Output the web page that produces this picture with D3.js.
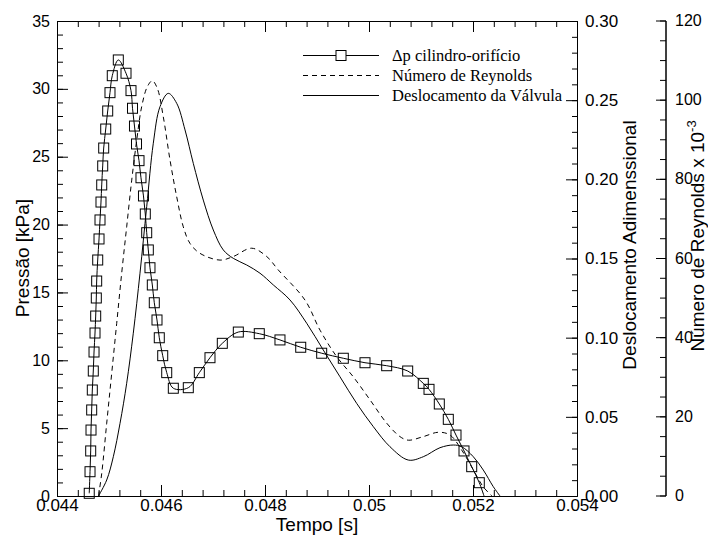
<!DOCTYPE html>
<html>
<head>
<meta charset="utf-8">
<script src="https://cdn.jsdelivr.net/npm/d3@7"></script>
<style>
  body { margin: 0; background: #fff; }
  svg { display: block; }
</style>
</head>
<body>
<svg id="chart" width="708" height="537"></svg>
<script>
// Δp cilindro-orifício (kPa) vs tempo (s)
const tempoDp = [0.04462,0.044635,0.044648,0.044654,0.044667,0.044679,0.044698,0.044712,0.044731,0.044744,
  0.044756,0.044763,0.044783,0.044808,0.044827,0.044846,0.04486,0.044879,0.044898,0.044937,
  0.044975,0.045019,0.045063,0.045179,0.045327,0.045423,0.045452,0.04549,0.045529,0.045577,
  0.045615,0.045663,0.045698,0.045725,0.045756,0.045788,0.045833,0.045871,0.045923,0.045967,
  0.046033,0.04611,0.046237,0.046525,0.046737,0.046942,0.047179,0.047487,0.04789,0.048288,
  0.048687,0.04909,0.049506,0.049923,0.05034,0.050744,0.051044,0.051154,0.051352,0.051525,
  0.051673,0.051827,0.051975,0.052121,0.052212];
const pressao = [0.2,1.79,3.32,4.86,6.34,7.81,9.21,10.61,12.01,13.26,
  14.59,15.84,17.39,18.94,20.34,21.66,22.92,24.32,25.64,27.04,
  28.37,29.72,30.97,32.13,31.15,29.87,28.57,27.26,25.94,24.71,
  23.45,22.11,20.78,19.4,18.13,16.82,15.55,14.24,12.97,11.66,
  10.34,9.09,7.94,7.98,9.09,10.19,11.25,12.08,11.96,11.5,
  10.96,10.52,10.15,9.82,9.6,9.21,8.3,7.86,6.78,5.65,
  4.49,3.32,2.16,0.98,0];

// Número de Reynolds x 10^-3
const tempoRe = [0.044798,0.04486,0.044956,0.045052,0.045148,0.045244,0.04534,0.045437,0.045533,0.045629,
  0.045737,0.045833,0.045929,0.046044,0.046173,0.046302,0.046429,0.046558,0.04675,0.047135,
  0.04739,0.047744,0.048033,0.048256,0.048769,0.049058,0.049379,0.049698,0.050019,0.05034,
  0.050596,0.050756,0.051044,0.051333,0.051558,0.051783,0.052006,0.052198,0.052365];
const reynolds = [0,5.7,18.4,31,43.6,56.3,68,79.8,89.9,98.4,
  103.4,104.9,103,95.8,84.9,75.6,68,63.8,61.3,59.6,
  60.5,62.6,60.5,57.1,49.5,41.9,35.2,30.1,24.3,18.4,
  15,14.1,15,16.1,15.4,11.6,6.6,2.3,0];

// Deslocamento adimensional da válvula
const tempoDesl = [0.044798,0.044956,0.045083,0.045212,0.04534,0.045467,0.045596,0.045725,0.045852,0.045981,
  0.04614,0.046302,0.046462,0.046621,0.046813,0.047006,0.047198,0.04739,0.047648,0.047904,
  0.04816,0.048481,0.048802,0.049121,0.049442,0.049763,0.050083,0.050404,0.050756,0.051044,
  0.051365,0.051621,0.051783,0.052006,0.052198,0.05239,0.052519];
const desl = [0,0.0101,0.0248,0.0459,0.0712,0.1028,0.1407,0.1827,0.2228,0.2459,
  0.2543,0.248,0.2312,0.2101,0.1869,0.168,0.1554,0.1501,0.1459,0.1407,
  0.1333,0.1238,0.1091,0.0922,0.0753,0.0585,0.0438,0.0311,0.0227,0.0248,
  0.0305,0.0322,0.0311,0.0248,0.0164,0.0059,0];

// tick labels
const xTicks = [0.044,0.046,0.048,0.05,0.052,0.054];
const xLabels = ["0.044","0.046","0.048","0.05","0.052","0.054"];
const pTicks = [0,5,10,15,20,25,30,35];
const dTicks = [0,0.05,0.10,0.15,0.20,0.25,0.30];
const dLabels = ["0.00","0.05","0.10","0.15","0.20","0.25","0.30"];
const reTicks = [0,20,40,60,80,100,120];

const legendNames = ["\u0394p cilindro-orif\u00edcio","N\u00famero de Reynolds","Deslocamento da V\u00e1lvula"];

const svg = d3.select("#chart");
const plotLeft = 57, plotRight = 577, plotTop = 21, plotBottom = 496;
const reAxisX = 666;

const x = d3.scaleLinear().domain([0.044, 0.054]).range([plotLeft, plotRight]);
const yP = d3.scaleLinear().domain([0, 35]).range([plotBottom, plotTop]);
const yD = d3.scaleLinear().domain([0, 0.3]).range([plotBottom, plotTop]);
const yR = d3.scaleLinear().domain([0, 120]).range([plotBottom, plotTop]);

const sans = "'Liberation Sans', Arial, Helvetica, sans-serif";
const serif = "'Liberation Serif', 'Times New Roman', serif";

function styleAxis(g, size) {
  g.attr("font-family", sans).attr("font-size", size);
  g.selectAll("path, line").attr("stroke", "#000");
  g.selectAll("text").attr("fill", "#000");
}

// minor ticks first (no labels)
const xMinor = d3.range(0, 26).map(i => 0.044 + i * 0.0004);
svg.append("g").attr("transform", `translate(0,${plotBottom})`)
  .call(d3.axisBottom(x).tickValues(xMinor).tickSizeInner(-6).tickSizeOuter(0).tickFormat(""))
  .call(g => styleAxis(g, 17));
svg.append("g").attr("transform", `translate(0,${plotTop})`)
  .call(d3.axisTop(x).tickValues(xMinor).tickSizeInner(-6).tickSizeOuter(0).tickFormat(""))
  .call(g => styleAxis(g, 17));
svg.append("g").attr("transform", `translate(0,${plotTop})`)
  .call(d3.axisTop(x).tickValues(xTicks).tickSizeInner(-11).tickSizeOuter(0).tickFormat(""))
  .call(g => styleAxis(g, 17));
svg.append("g").attr("transform", `translate(${plotLeft},0)`)
  .call(d3.axisLeft(yP).tickValues(d3.range(0, 36)).tickSizeInner(-6).tickSizeOuter(0).tickFormat(""))
  .call(g => styleAxis(g, 16));
svg.append("g").attr("transform", `translate(${plotRight},0)`)
  .call(d3.axisRight(yD).tickValues(d3.range(0, 31).map(i => i * 0.01)).tickSizeInner(-5).tickSizeOuter(0).tickFormat(""))
  .call(g => styleAxis(g, 17));
svg.append("g").attr("transform", `translate(${reAxisX},0)`)
  .call(d3.axisRight(yR).tickValues(d3.range(0, 121, 5)).tickSizeInner(-6).tickSizeOuter(0).tickFormat("").offset(0))
  .call(g => styleAxis(g, 16));

// major ticks with labels
svg.append("g").attr("transform", `translate(0,${plotBottom})`)
  .call(d3.axisBottom(x).tickValues(xTicks).tickSizeInner(-11).tickSizeOuter(0).tickPadding(3)
    .tickFormat((d, i) => xLabels[i]))
  .call(g => styleAxis(g, 17));
svg.append("g").attr("transform", `translate(${plotLeft},0)`)
  .call(d3.axisLeft(yP).tickValues(pTicks).tickSizeInner(-11).tickSizeOuter(0).tickPadding(7))
  .call(g => styleAxis(g, 16));
svg.append("g").attr("transform", `translate(${plotRight},0)`)
  .call(d3.axisRight(yD).tickValues(dTicks).tickSizeInner(-11).tickSizeOuter(0).tickPadding(8)
    .tickFormat((d, i) => dLabels[i]))
  .call(g => styleAxis(g, 17));
svg.append("g").attr("transform", `translate(${reAxisX},0)`)
  .call(d3.axisRight(yR).tickValues(reTicks).tickSizeInner(-10).tickSizeOuter(0).tickPadding(9).offset(0))
  .call(g => styleAxis(g, 16));

// axis titles
svg.append("text")
  .attr("x", (plotLeft + plotRight) / 2).attr("y", 531)
  .attr("text-anchor", "middle")
  .attr("font-family", sans).attr("font-size", 19)
  .text("Tempo [s]");
svg.append("text")
  .attr("transform", "translate(29,258) rotate(-90)")
  .attr("text-anchor", "middle")
  .attr("font-family", sans).attr("font-size", 19)
  .text("Press\u00e3o [kPa]");
svg.append("text")
  .attr("transform", "translate(636,245) rotate(-90)")
  .attr("text-anchor", "middle")
  .attr("font-family", sans).attr("font-size", 19)
  .text("Deslocamento Adimenssional");
const reTitle = svg.append("text")
  .attr("transform", "translate(704,236) rotate(-90)")
  .attr("text-anchor", "middle")
  .attr("font-family", sans).attr("font-size", 19);
reTitle.append("tspan").text("N\u00famero de Reynolds x 10");
reTitle.append("tspan").attr("dy", -8).attr("font-size", 13).text("-3");

// curves
const curve = d3.curveCatmullRom.alpha(0.5);
const dpData = d3.zip(tempoDp, pressao);
const reData = d3.zip(tempoRe, reynolds);
const deslData = d3.zip(tempoDesl, desl);

svg.append("path")
  .datum(dpData)
  .attr("fill", "none").attr("stroke", "#000").attr("stroke-width", 1)
  .attr("d", d3.line().x(d => x(d[0])).y(d => yP(d[1])).curve(curve));

// symbols on every measured point except the closing zero
const sq = 10;
svg.append("g").selectAll("rect")
  .data(dpData.slice(0, -1))
  .join("rect")
  .attr("x", d => x(d[0]) - sq / 2)
  .attr("y", d => yP(d[1]) - sq / 2)
  .attr("width", sq).attr("height", sq)
  .attr("fill", "none").attr("stroke", "#000").attr("stroke-width", 1);

svg.append("path")
  .datum(reData)
  .attr("fill", "none").attr("stroke", "#000").attr("stroke-width", 1)
  .attr("stroke-dasharray", "5,4")
  .attr("d", d3.line().x(d => x(d[0])).y(d => yR(d[1])).curve(curve));

svg.append("path")
  .datum(deslData)
  .attr("fill", "none").attr("stroke", "#000").attr("stroke-width", 1)
  .attr("d", d3.line().x(d => x(d[0])).y(d => yD(d[1])).curve(curve));

// legend
const legend = svg.append("g").attr("transform", "translate(303,55.5)");
const rowH = 20;
legendNames.forEach((name, i) => {
  const row = legend.append("g").attr("transform", `translate(0,${i * rowH})`);
  if (i === 0) {
    row.append("line").attr("x1", 0).attr("x2", 33).attr("y1", 0).attr("y2", 0).attr("stroke", "#000");
    row.append("line").attr("x1", 43).attr("x2", 76).attr("y1", 0).attr("y2", 0).attr("stroke", "#000");
    row.append("rect").attr("x", 38 - sq / 2).attr("y", -sq / 2).attr("width", sq).attr("height", sq)
      .attr("fill", "none").attr("stroke", "#000");
  } else {
    row.append("line").attr("x1", 0).attr("x2", 76).attr("y1", 0).attr("y2", 0)
      .attr("stroke", "#000").attr("stroke-dasharray", i === 1 ? "5,4" : null);
  }
  row.append("text")
    .attr("x", 89).attr("y", 5)
    .attr("font-family", serif).attr("font-size", 16.5)
    .text(name);
});
</script>
</body>
</html>
